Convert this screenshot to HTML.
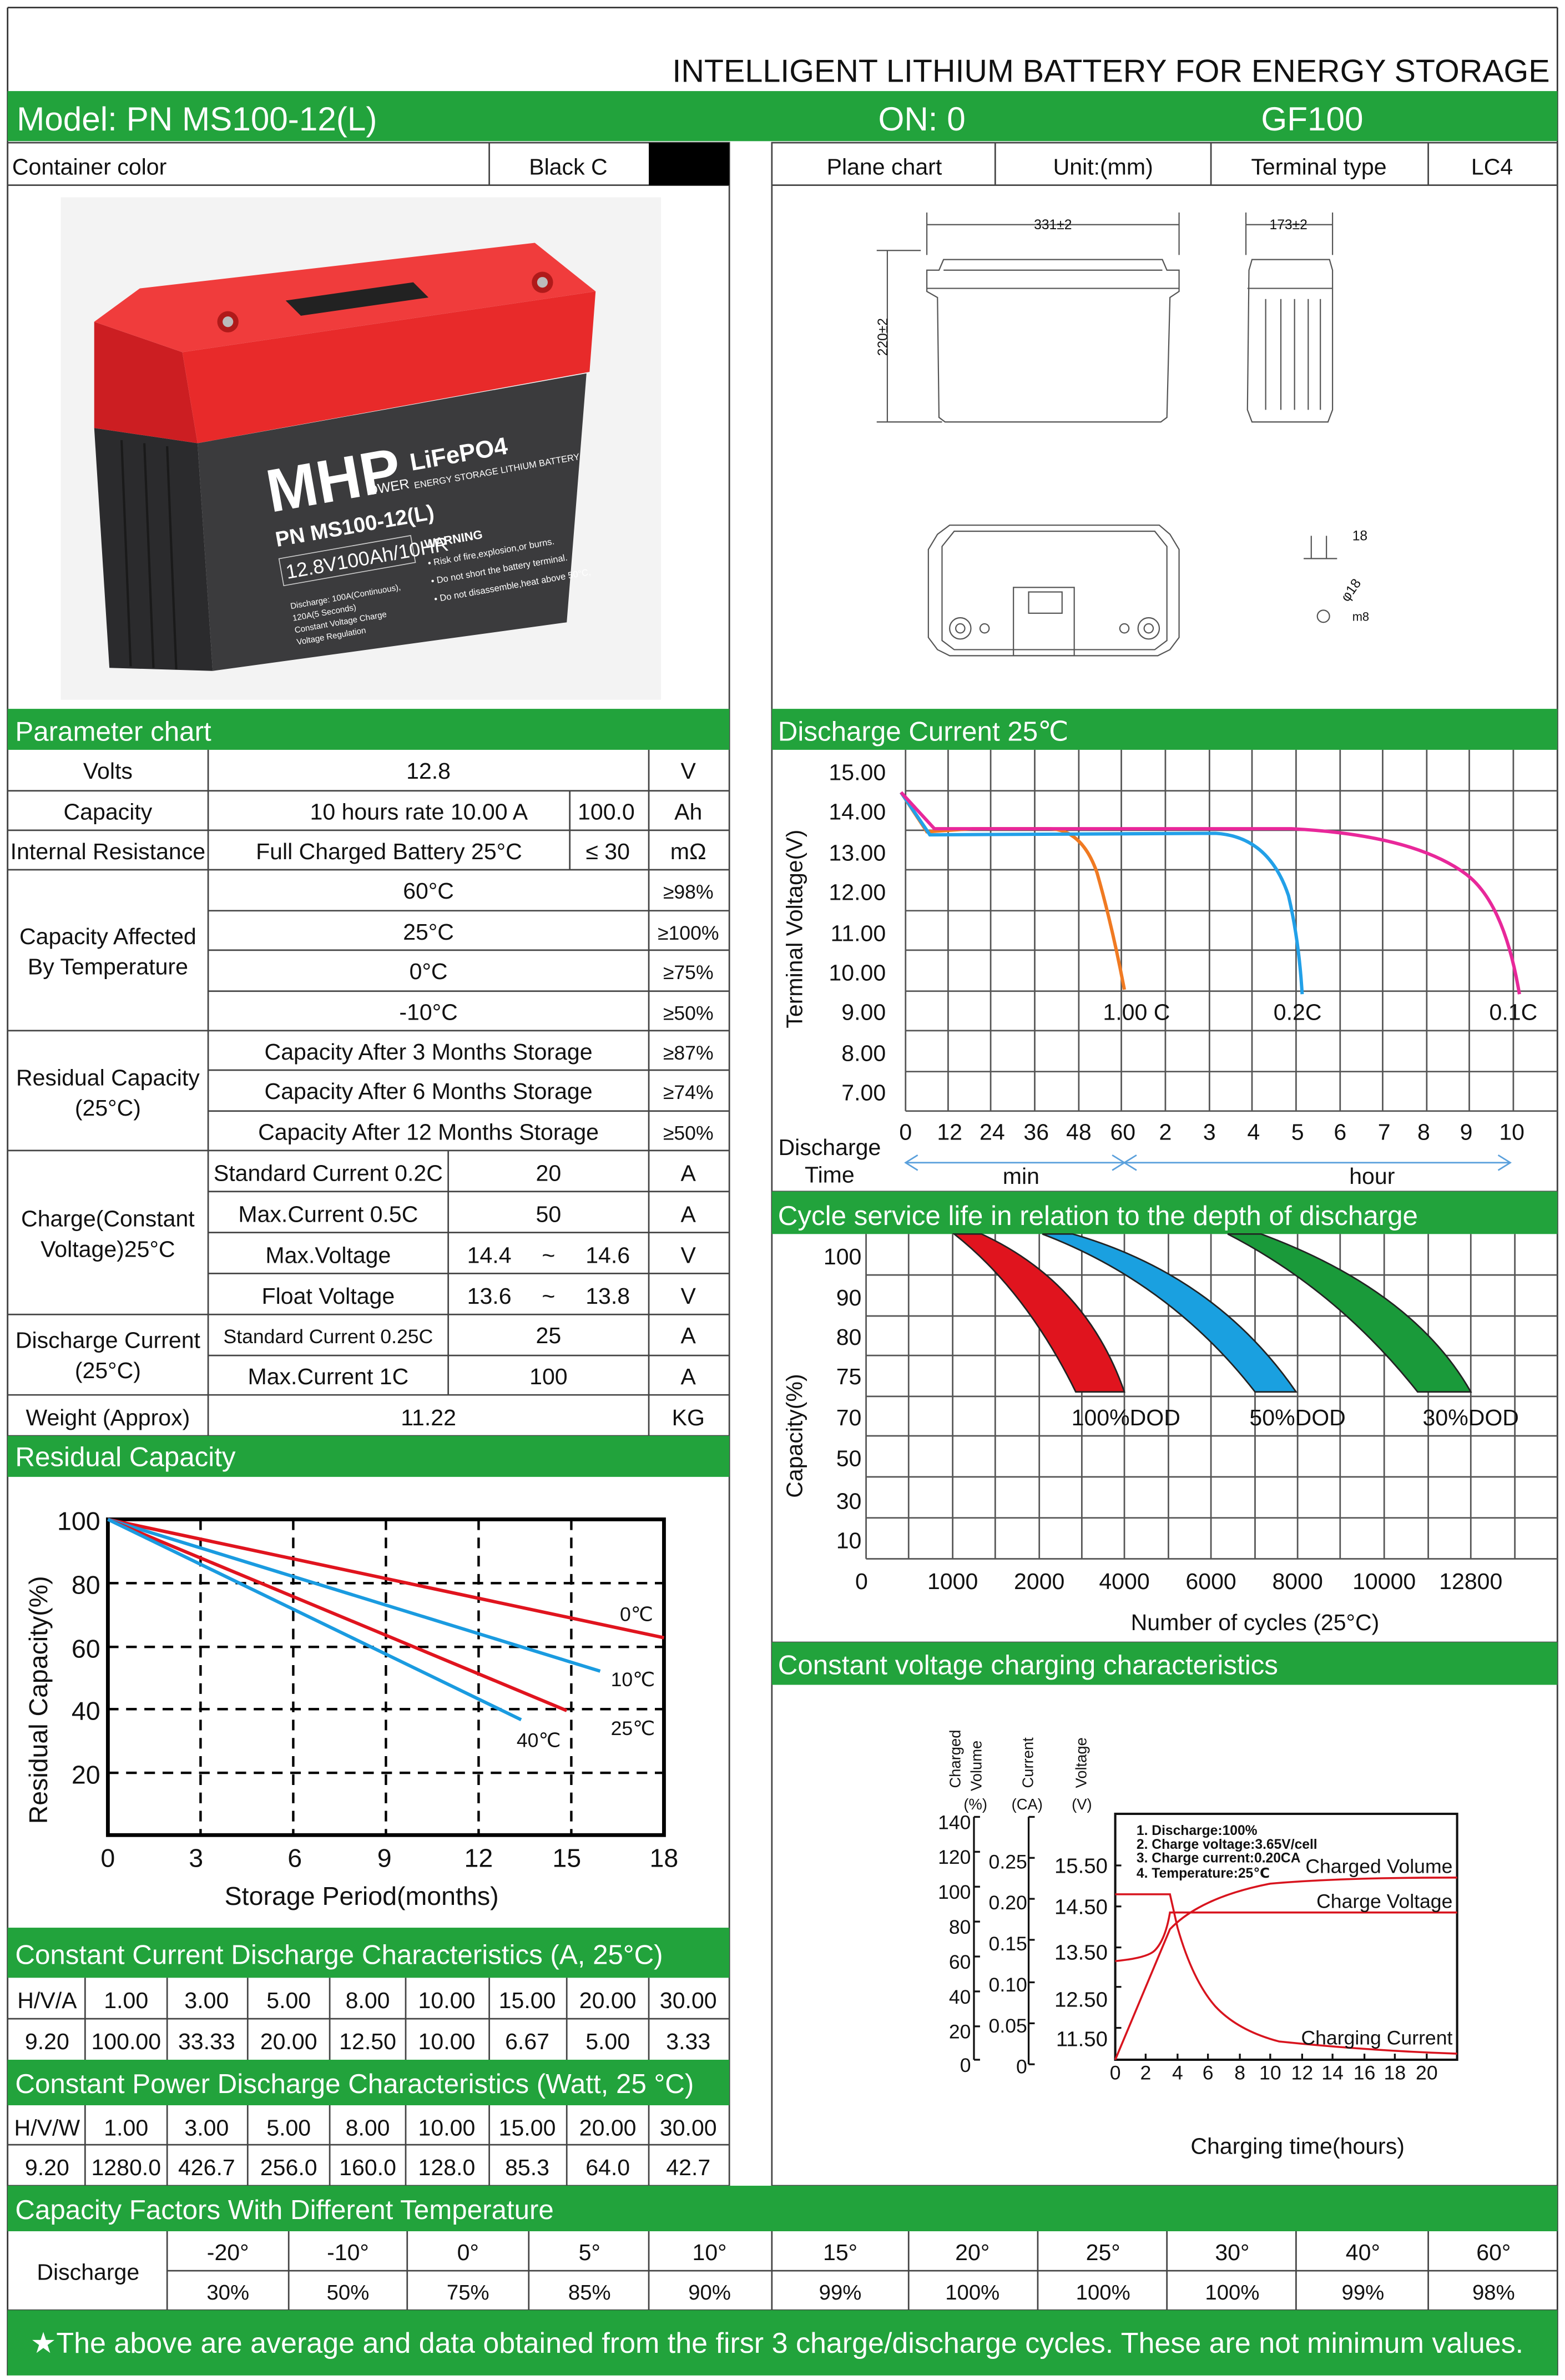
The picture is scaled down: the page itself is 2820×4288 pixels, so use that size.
<!DOCTYPE html>
<html><head><meta charset="utf-8"><style>
html,body{margin:0;padding:0;background:#fff;}
svg{display:block;}
text{font-family:"Liberation Sans","DejaVu Sans",sans-serif;fill:#111;}
.g{fill:#22a33c;}
.c{text-anchor:middle;}
.r{text-anchor:end;}
</style></head><body>
<svg width="2820" height="4288" viewBox="0 0 1030 1568" preserveAspectRatio="none" xmlns="http://www.w3.org/2000/svg">
<rect width="1030" height="1568" fill="#fff"/>
<line x1="5" y1="5" x2="1025" y2="5" stroke="#333" stroke-width="1"/>
<line x1="5" y1="5" x2="5" y2="1565" stroke="#333" stroke-width="1"/>
<line x1="1025" y1="5" x2="1025" y2="1565" stroke="#333" stroke-width="1"/>
<text x="1020" y="54" class="r" font-size="21">INTELLIGENT LITHIUM BATTERY FOR ENERGY STORAGE</text>
<rect x="5" y="60" width="1020" height="33" class="g"/>
<text x="11" y="86" font-size="22" style="fill:#fff">Model: PN MS100-12(L)</text>
<text x="578" y="86" font-size="22" style="fill:#fff">ON:  0</text>
<text x="830" y="86" font-size="22" style="fill:#fff">GF100</text>

<g stroke="#444" stroke-width="1" fill="none">
<rect x="5" y="94" width="475" height="1346"/>
<rect x="508" y="94" width="517" height="1346"/>
<line x1="5" y1="122" x2="480" y2="122"/><line x1="322" y1="94" x2="322" y2="122"/>
<line x1="508" y1="122" x2="1025" y2="122"/>
<line x1="655" y1="94" x2="655" y2="122"/><line x1="797" y1="94" x2="797" y2="122"/><line x1="940" y1="94" x2="940" y2="122"/>
</g>
<rect x="427" y="94" width="53" height="28" fill="#000"/>
<text x="8" y="115" font-size="15">Container color</text>
<text x="374" y="115" font-size="15" class="c">Black C</text>
<text x="582" y="115" font-size="15" class="c">Plane chart</text>
<text x="726" y="115" font-size="15" class="c">Unit:(mm)</text>
<text x="868" y="115" font-size="15" class="c">Terminal type</text>
<text x="982" y="115" font-size="15" class="c">LC4</text>

<!-- battery image -->
<rect x="40" y="130" width="395" height="331" fill="#f3f3f3"/>
<polygon points="62,282 130,292 140,442 72,440" fill="#2b2b2d"/>
<polygon points="130,292 386,246 373,410 140,442" fill="#3b3b3d"/>
<g stroke="#1a1a1a" stroke-width="1.5"><line x1="80" y1="290" x2="86" y2="439"/><line x1="95" y1="292" x2="101" y2="440"/><line x1="110" y1="294" x2="116" y2="441"/></g>
<polygon points="62,212 120,232 130,292 62,282" fill="#cc1e22"/>
<polygon points="120,232 392,192 388,245 130,292" fill="#e82a2a"/>
<polygon points="62,212 92,190 352,160 392,192 120,232" fill="#f03c3c"/>
<polygon points="188,198 272,186 282,196 198,208" fill="#222"/>
<circle cx="150" cy="212" r="7" fill="#b01a1a"/><circle cx="150" cy="212" r="3.5" fill="#bbb"/>
<circle cx="357" cy="186" r="7" fill="#b01a1a"/><circle cx="357" cy="186" r="3.5" fill="#bbb"/>
<g transform="rotate(-10 250 330)">
<text x="178" y="325" font-size="40" font-weight="bold" style="fill:#fff">MHP</text>
<text x="243" y="325" font-size="9" style="fill:#fff">OWER</text>
<text x="274" y="314" font-size="16" font-weight="bold" style="fill:#fff">LiFePO4</text>
<text x="274" y="326" font-size="6" style="fill:#fff">ENERGY STORAGE LITHIUM BATTERY</text>
<text x="178" y="348" font-size="14" font-weight="bold" style="fill:#fff">PN MS100-12(L)</text>
<rect x="178" y="356" width="88" height="18" fill="none" stroke="#ccc" stroke-width="0.6"/>
<text x="181" y="370" font-size="13" style="fill:#fff">12.8V100Ah/10HR</text>
<text x="274" y="366" font-size="8" font-weight="bold" style="fill:#fff">WARNING</text>
<text x="274" y="378" font-size="6" style="fill:#fff">• Risk of fire,explosion,or burns.</text>
<text x="274" y="390" font-size="6" style="fill:#fff">• Do not short the battery terminal.</text>
<text x="274" y="402" font-size="6" style="fill:#fff">• Do not disassemble,heat above 50°C,</text>
<text x="180" y="390" font-size="5.5" style="fill:#fff">Discharge: 100A(Continuous),</text>
<text x="180" y="398" font-size="5.5" style="fill:#fff">120A(5 Seconds)</text>
<text x="180" y="406" font-size="5.5" style="fill:#fff">Constant Voltage Charge</text>
<text x="180" y="414" font-size="5.5" style="fill:#fff">Voltage Regulation</text>
</g>

<!-- plane drawings -->
<g stroke="#555" stroke-width="0.8" fill="none">
<line x1="610" y1="148" x2="776" y2="148"/><line x1="610" y1="140" x2="610" y2="168"/><line x1="776" y1="140" x2="776" y2="168"/>
<line x1="820" y1="148" x2="877" y2="148"/><line x1="820" y1="140" x2="820" y2="168"/><line x1="877" y1="140" x2="877" y2="168"/>
<line x1="584" y1="165" x2="584" y2="278"/><line x1="577" y1="165" x2="606" y2="165"/><line x1="577" y1="278" x2="620" y2="278"/>
<path d="M618,178 L621,171 L765,171 L768,178 L776,178 L776,192 L770,196 L768,275 L764,278 L622,278 L618,275 L617,196 L610,192 L610,178 Z"/>
<line x1="610" y1="190" x2="776" y2="190"/><line x1="621" y1="178" x2="765" y2="178"/>
<path d="M822,178 L824,171 L875,171 L877,178 L877,270 L874,278 L824,278 L821,270 Z"/>
<line x1="821" y1="190" x2="877" y2="190"/>
<line x1="833" y1="197" x2="833" y2="270"/><line x1="843" y1="197" x2="843" y2="270"/><line x1="852" y1="197" x2="852" y2="270"/><line x1="861" y1="197" x2="861" y2="270"/><line x1="869" y1="197" x2="869" y2="270"/>
<path d="M625,346 L763,346 L770,352 L776,362 L776,420 L770,428 L762,432 L625,432 L617,428 L611,420 L611,362 L617,352 Z"/>
<path d="M628,350 L760,350 L768,360 L768,422 L760,428 L628,428 L620,422 L620,360 Z"/>
<rect x="667" y="387" width="40" height="45"/><rect x="677" y="390" width="22" height="14"/>
<circle cx="632" cy="414" r="7"/><circle cx="632" cy="414" r="3"/>
<circle cx="756" cy="414" r="7"/><circle cx="756" cy="414" r="3"/>
<circle cx="648" cy="414" r="3"/><circle cx="740" cy="414" r="3"/>
<line x1="863" y1="353" x2="863" y2="368"/><line x1="873" y1="353" x2="873" y2="368"/><line x1="858" y1="368" x2="880" y2="368"/>
<circle cx="871" cy="406" r="4"/>
</g>
<text x="693" y="151" font-size="9" class="c">331±2</text>
<text x="848" y="151" font-size="9" class="c">173±2</text>
<text x="584" y="222" font-size="9" class="c" transform="rotate(-90 584 222)">220±2</text>
<text x="890" y="356" font-size="9">18</text>
<text x="887" y="397" font-size="9" transform="rotate(-55 887 397)">φ18</text>
<text x="890" y="409" font-size="8">m8</text>

<!-- green section bars -->
<rect x="5" y="467" width="475" height="27" class="g"/>
<text x="10" y="488" font-size="18" style="fill:#fff">Parameter chart</text>
<rect x="508" y="467" width="517" height="27" class="g"/>
<text x="512" y="488" font-size="18" style="fill:#fff">Discharge Current 25℃</text>

<!-- parameter table -->
<g stroke="#444" stroke-width="1">
<line x1="5" y1="521" x2="480" y2="521"/><line x1="5" y1="547" x2="480" y2="547"/><line x1="5" y1="573" x2="480" y2="573"/>
<line x1="137" y1="600" x2="480" y2="600"/><line x1="137" y1="626" x2="480" y2="626"/><line x1="137" y1="653" x2="480" y2="653"/>
<line x1="5" y1="679" x2="480" y2="679"/><line x1="137" y1="705" x2="480" y2="705"/><line x1="137" y1="732" x2="480" y2="732"/>
<line x1="5" y1="758" x2="480" y2="758"/><line x1="137" y1="785" x2="480" y2="785"/><line x1="137" y1="812" x2="480" y2="812"/><line x1="137" y1="839" x2="480" y2="839"/>
<line x1="5" y1="866" x2="480" y2="866"/><line x1="137" y1="893" x2="480" y2="893"/><line x1="5" y1="919" x2="480" y2="919"/><line x1="5" y1="946" x2="480" y2="946"/>
<line x1="137" y1="494" x2="137" y2="946"/><line x1="427" y1="494" x2="427" y2="946"/>
<line x1="375" y1="521" x2="375" y2="573"/><line x1="295" y1="758" x2="295" y2="919"/>
</g>
<g font-size="15">
<text x="71" y="513" class="c">Volts</text><text x="282" y="513" class="c">12.8</text><text x="453" y="513" class="c">V</text>
<text x="71" y="540" class="c">Capacity</text><text x="204" y="540">10 hours rate  10.00   A</text><text x="399" y="540" class="c">100.0</text><text x="453" y="540" class="c">Ah</text>
<text x="71" y="566" class="c">Internal Resistance</text><text x="256" y="566" class="c">Full Charged Battery 25°C</text><text x="400" y="566" class="c">≤  30</text><text x="453" y="566" class="c">mΩ</text>
<text x="71" y="622" class="c">Capacity Affected</text><text x="71" y="642" class="c">By Temperature</text>
<text x="282" y="592" class="c">60°C</text><text x="282" y="619" class="c">25°C</text><text x="282" y="645" class="c">0°C</text><text x="282" y="672" class="c">-10°C</text>
<text x="453" y="592" class="c" font-size="13">≥98%</text><text x="453" y="619" class="c" font-size="13">≥100%</text><text x="453" y="645" class="c" font-size="13">≥75%</text><text x="453" y="672" class="c" font-size="13">≥50%</text>
<text x="71" y="715" class="c">Residual Capacity</text><text x="71" y="735" class="c">(25°C)</text>
<text x="282" y="698" class="c">Capacity After 3 Months Storage</text><text x="282" y="724" class="c">Capacity After 6 Months Storage</text><text x="282" y="751" class="c">Capacity After 12 Months Storage</text>
<text x="453" y="698" class="c" font-size="13">≥87%</text><text x="453" y="724" class="c" font-size="13">≥74%</text><text x="453" y="751" class="c" font-size="13">≥50%</text>
<text x="71" y="808" class="c">Charge(Constant</text><text x="71" y="828" class="c">Voltage)25°C</text>
<text x="216" y="778" class="c">Standard Current 0.2C</text><text x="361" y="778" class="c">20</text><text x="453" y="778" class="c">A</text>
<text x="216" y="805" class="c">Max.Current 0.5C</text><text x="361" y="805" class="c">50</text><text x="453" y="805" class="c">A</text>
<text x="216" y="832" class="c">Max.Voltage</text><text x="322" y="832" class="c">14.4</text><text x="361" y="832" class="c">~</text><text x="400" y="832" class="c">14.6</text><text x="453" y="832" class="c">V</text>
<text x="216" y="859" class="c">Float Voltage</text><text x="322" y="859" class="c">13.6</text><text x="361" y="859" class="c">~</text><text x="400" y="859" class="c">13.8</text><text x="453" y="859" class="c">V</text>
<text x="71" y="888" class="c">Discharge Current</text><text x="71" y="908" class="c">(25°C)</text>
<text x="216" y="885" class="c" font-size="13">Standard Current 0.25C</text><text x="361" y="885" class="c">25</text><text x="453" y="885" class="c">A</text>
<text x="216" y="912" class="c">Max.Current 1C</text><text x="361" y="912" class="c">100</text><text x="453" y="912" class="c">A</text>
<text x="71" y="939" class="c">Weight (Approx)</text><text x="282" y="939" class="c">11.22</text><text x="453" y="939" class="c">KG</text>
</g>
<rect x="5" y="946" width="475" height="27" class="g"/>
<text x="10" y="966" font-size="18" style="fill:#fff">Residual Capacity</text>

<!-- residual chart -->
<g stroke="#000" stroke-width="1.6" stroke-dasharray="7,5" fill="none">
<line x1="71" y1="1043" x2="437" y2="1043"/><line x1="71" y1="1085" x2="437" y2="1085"/><line x1="71" y1="1126" x2="437" y2="1126"/><line x1="71" y1="1168" x2="437" y2="1168"/>
<line x1="132" y1="1001" x2="132" y2="1209"/><line x1="193" y1="1001" x2="193" y2="1209"/><line x1="254" y1="1001" x2="254" y2="1209"/><line x1="315" y1="1001" x2="315" y2="1209"/><line x1="376" y1="1001" x2="376" y2="1209"/>
</g>
<rect x="71" y="1001" width="366" height="208" fill="none" stroke="#000" stroke-width="2.5"/>
<g stroke-width="2.2" fill="none">
<line x1="71" y1="1001" x2="437" y2="1079" stroke="#e0141e"/>
<line x1="71" y1="1001" x2="395" y2="1101" stroke="#1a9be0"/>
<line x1="71" y1="1001" x2="373" y2="1127" stroke="#e0141e"/>
<line x1="71" y1="1001" x2="343" y2="1133" stroke="#1a9be0"/>
</g>
<g font-size="17">
<text x="66" y="1008" class="r">100</text><text x="66" y="1050" class="r">80</text><text x="66" y="1092" class="r">60</text><text x="66" y="1133" class="r">40</text><text x="66" y="1175" class="r">20</text>
<text x="71" y="1230" class="c">0</text><text x="129" y="1230" class="c">3</text><text x="194" y="1230" class="c">6</text><text x="253" y="1230" class="c">9</text><text x="315" y="1230" class="c">12</text><text x="373" y="1230" class="c">15</text><text x="437" y="1230" class="c">18</text>
<text x="238" y="1255" class="c">Storage Period(months)</text>
<text x="31" y="1120" class="c" transform="rotate(-90 31 1120)">Residual Capacity(%)</text>
</g>
<g font-size="13"><text x="408" y="1068">0℃</text><text x="402" y="1111">10℃</text><text x="402" y="1143">25℃</text><text x="340" y="1151">40℃</text></g>

<!-- constant current/power tables -->
<rect x="5" y="1270" width="475" height="33" class="g"/>
<text x="10" y="1294" font-size="18" style="fill:#fff">Constant Current Discharge Characteristics (A, 25°C)</text>
<rect x="5" y="1357" width="475" height="30" class="g"/>
<text x="10" y="1379" font-size="18" style="fill:#fff">Constant Power Discharge Characteristics (Watt, 25 °C)</text>
<g stroke="#444" stroke-width="1">
<line x1="5" y1="1330" x2="480" y2="1330"/><line x1="5" y1="1413" x2="480" y2="1413"/>
<g id="cols"><line x1="56" y1="1303" x2="56" y2="1357"/><line x1="110" y1="1303" x2="110" y2="1357"/><line x1="163" y1="1303" x2="163" y2="1357"/><line x1="217" y1="1303" x2="217" y2="1357"/><line x1="267" y1="1303" x2="267" y2="1357"/><line x1="322" y1="1303" x2="322" y2="1357"/><line x1="373" y1="1303" x2="373" y2="1357"/><line x1="427" y1="1303" x2="427" y2="1357"/></g>
<use href="#cols" transform="translate(0,84)"/>
</g>
<g font-size="15">
<text x="31" y="1323" class="c">H/V/A</text><text x="83" y="1323" class="c">1.00</text><text x="136" y="1323" class="c">3.00</text><text x="190" y="1323" class="c">5.00</text><text x="242" y="1323" class="c">8.00</text><text x="294" y="1323" class="c">10.00</text><text x="347" y="1323" class="c">15.00</text><text x="400" y="1323" class="c">20.00</text><text x="453" y="1323" class="c">30.00</text>
<text x="31" y="1350" class="c">9.20</text><text x="83" y="1350" class="c">100.00</text><text x="136" y="1350" class="c">33.33</text><text x="190" y="1350" class="c">20.00</text><text x="242" y="1350" class="c">12.50</text><text x="294" y="1350" class="c">10.00</text><text x="347" y="1350" class="c">6.67</text><text x="400" y="1350" class="c">5.00</text><text x="453" y="1350" class="c">3.33</text>
<text x="31" y="1407" class="c">H/V/W</text><text x="83" y="1407" class="c">1.00</text><text x="136" y="1407" class="c">3.00</text><text x="190" y="1407" class="c">5.00</text><text x="242" y="1407" class="c">8.00</text><text x="294" y="1407" class="c">10.00</text><text x="347" y="1407" class="c">15.00</text><text x="400" y="1407" class="c">20.00</text><text x="453" y="1407" class="c">30.00</text>
<text x="31" y="1433" class="c">9.20</text><text x="83" y="1433" class="c">1280.0</text><text x="136" y="1433" class="c">426.7</text><text x="190" y="1433" class="c">256.0</text><text x="242" y="1433" class="c">160.0</text><text x="294" y="1433" class="c">128.0</text><text x="347" y="1433" class="c">85.3</text><text x="400" y="1433" class="c">64.0</text><text x="453" y="1433" class="c">42.7</text>
</g>

<!-- discharge current chart -->
<g stroke="#555" stroke-width="1">
<line x1="596" y1="521" x2="1025" y2="521"/><line x1="596" y1="547" x2="1025" y2="547"/><line x1="596" y1="573" x2="1025" y2="573"/><line x1="596" y1="600" x2="1025" y2="600"/><line x1="596" y1="626" x2="1025" y2="626"/><line x1="596" y1="653" x2="1025" y2="653"/><line x1="596" y1="679" x2="1025" y2="679"/><line x1="596" y1="706" x2="1025" y2="706"/><line x1="596" y1="732" x2="1025" y2="732"/>
<line x1="596" y1="494" x2="596" y2="732"/><line x1="624" y1="494" x2="624" y2="732"/><line x1="652" y1="494" x2="652" y2="732"/><line x1="681" y1="494" x2="681" y2="732"/><line x1="710" y1="494" x2="710" y2="732"/><line x1="738" y1="494" x2="738" y2="732"/><line x1="767" y1="494" x2="767" y2="732"/><line x1="796" y1="494" x2="796" y2="732"/><line x1="824" y1="494" x2="824" y2="732"/><line x1="853" y1="494" x2="853" y2="732"/><line x1="882" y1="494" x2="882" y2="732"/><line x1="910" y1="494" x2="910" y2="732"/><line x1="939" y1="494" x2="939" y2="732"/><line x1="967" y1="494" x2="967" y2="732"/><line x1="996" y1="494" x2="996" y2="732"/>
<line x1="508" y1="785" x2="1025" y2="785"/>
</g>
<g font-size="15">
<text x="583" y="514" class="r">15.00</text><text x="583" y="540" class="r">14.00</text><text x="583" y="567" class="r">13.00</text><text x="583" y="593" class="r">12.00</text><text x="583" y="620" class="r">11.00</text><text x="583" y="646" class="r">10.00</text><text x="583" y="672" class="r">9.00</text><text x="583" y="699" class="r">8.00</text><text x="583" y="725" class="r">7.00</text>
<text x="596" y="751" class="c">0</text><text x="625" y="751" class="c">12</text><text x="653" y="751" class="c">24</text><text x="682" y="751" class="c">36</text><text x="710" y="751" class="c">48</text><text x="739" y="751" class="c">60</text><text x="767" y="751" class="c">2</text><text x="796" y="751" class="c">3</text><text x="825" y="751" class="c">4</text><text x="854" y="751" class="c">5</text><text x="882" y="751" class="c">6</text><text x="911" y="751" class="c">7</text><text x="937" y="751" class="c">8</text><text x="965" y="751" class="c">9</text><text x="995" y="751" class="c">10</text>
<text x="546" y="761" class="c">Discharge</text><text x="546" y="779" class="c">Time</text>
<text x="672" y="780" class="c">min</text><text x="903" y="780" class="c">hour</text>
<text x="528" y="612" class="c" transform="rotate(-90 528 612)">Terminal Voltage(V)</text>
<text x="748" y="672" class="c">1.00  C</text><text x="854" y="672" class="c">0.2C</text><text x="996" y="672" class="c">0.1C</text>
</g>
<g stroke="#5aa0dc" stroke-width="1" fill="none">
<line x1="596" y1="766" x2="994" y2="766"/>
<polyline points="604,761 596,766 604,771"/><polyline points="732,761 740,766 732,771"/><polyline points="748,761 740,766 748,771"/><polyline points="986,761 994,766 986,771"/>
</g>
<g fill="none" stroke-width="2.2">
<path d="M593,522 L610,548 L640,546 L690,546 Q712,546 722,575 Q732,610 740,652" stroke="#f07a22"/>
<path d="M593,522 L612,550 L800,549 Q835,551 848,590 Q855,620 857,655" stroke="#22a0e8"/>
<path d="M593,522 L615,546 L850,546 Q930,550 965,576 Q990,595 1000,655" stroke="#e8289a"/>
</g>

<!-- cycle life -->
<rect x="508" y="785" width="517" height="28" class="g"/>
<text x="512" y="807" font-size="18" style="fill:#fff">Cycle service life in relation to the depth of discharge</text>
<g stroke="#555" stroke-width="1">
<line x1="570" y1="840" x2="1025" y2="840"/><line x1="570" y1="867" x2="1025" y2="867"/><line x1="570" y1="893" x2="1025" y2="893"/><line x1="570" y1="920" x2="1025" y2="920"/><line x1="570" y1="946" x2="1025" y2="946"/><line x1="570" y1="973" x2="1025" y2="973"/><line x1="570" y1="1000" x2="1025" y2="1000"/><line x1="570" y1="1027" x2="1025" y2="1027"/>
<line x1="570" y1="813" x2="570" y2="1027"/><line x1="598" y1="813" x2="598" y2="1027"/><line x1="627" y1="813" x2="627" y2="1027"/><line x1="655" y1="813" x2="655" y2="1027"/><line x1="684" y1="813" x2="684" y2="1027"/><line x1="712" y1="813" x2="712" y2="1027"/><line x1="740" y1="813" x2="740" y2="1027"/><line x1="769" y1="813" x2="769" y2="1027"/><line x1="797" y1="813" x2="797" y2="1027"/><line x1="826" y1="813" x2="826" y2="1027"/><line x1="854" y1="813" x2="854" y2="1027"/><line x1="882" y1="813" x2="882" y2="1027"/><line x1="911" y1="813" x2="911" y2="1027"/><line x1="940" y1="813" x2="940" y2="1027"/><line x1="968" y1="813" x2="968" y2="1027"/><line x1="997" y1="813" x2="997" y2="1027"/>
<line x1="508" y1="1082" x2="1025" y2="1082"/>
</g>
<g stroke="#222" stroke-width="1">
<path d="M628,813 L646,813 Q715,845 740,917 L708,917 Q675,850 628,813 Z" fill="#e0141e"/>
<path d="M686,813 L706,813 Q800,840 853,917 L826,917 Q770,845 686,813 Z" fill="#1aa0e0"/>
<path d="M808,813 L830,813 Q930,850 968,917 L933,917 Q880,850 808,813 Z" fill="#1a9a3a"/>
</g>
<g font-size="15">
<text x="567" y="833" class="r">100</text><text x="567" y="860" class="r">90</text><text x="567" y="886" class="r">80</text><text x="567" y="912" class="r">75</text><text x="567" y="939" class="r">70</text><text x="567" y="966" class="r">50</text><text x="567" y="994" class="r">30</text><text x="567" y="1020" class="r">10</text>
<text x="567" y="1047" class="c">0</text><text x="627" y="1047" class="c">1000</text><text x="684" y="1047" class="c">2000</text><text x="740" y="1047" class="c">4000</text><text x="797" y="1047" class="c">6000</text><text x="854" y="1047" class="c">8000</text><text x="911" y="1047" class="c">10000</text><text x="968" y="1047" class="c">12800</text>
<text x="741" y="939" class="c">100%DOD</text><text x="854" y="939" class="c">50%DOD</text><text x="968" y="939" class="c">30%DOD</text>
<text x="826" y="1074" class="c">Number of cycles (25°C)</text>
<text x="528" y="946" class="c" transform="rotate(-90 528 946)">Capacity(%)</text>
</g>

<!-- charging chart -->
<rect x="508" y="1082" width="517" height="28" class="g"/>
<text x="512" y="1103" font-size="18" style="fill:#fff">Constant voltage charging characteristics</text>
<g stroke="#111" stroke-width="1.2" fill="none">
<line x1="641" y1="1197" x2="641" y2="1357"/>
<line x1="641" y1="1197" x2="645" y2="1197"/><line x1="641" y1="1220" x2="645" y2="1220"/><line x1="641" y1="1243" x2="645" y2="1243"/><line x1="641" y1="1266" x2="645" y2="1266"/><line x1="641" y1="1289" x2="645" y2="1289"/><line x1="641" y1="1312" x2="645" y2="1312"/><line x1="641" y1="1335" x2="645" y2="1335"/><line x1="641" y1="1357" x2="645" y2="1357"/>
<line x1="677" y1="1197" x2="677" y2="1360"/>
<line x1="677" y1="1197" x2="681" y2="1197"/><line x1="677" y1="1224" x2="681" y2="1224"/><line x1="677" y1="1251" x2="681" y2="1251"/><line x1="677" y1="1278" x2="681" y2="1278"/><line x1="677" y1="1306" x2="681" y2="1306"/><line x1="677" y1="1333" x2="681" y2="1333"/><line x1="677" y1="1360" x2="681" y2="1360"/>
<rect x="734" y="1195" width="225" height="162" stroke-width="1.5"/>
<line x1="734" y1="1229" x2="738" y2="1229"/><line x1="734" y1="1256" x2="738" y2="1256"/><line x1="734" y1="1283" x2="738" y2="1283"/><line x1="734" y1="1309" x2="738" y2="1309"/><line x1="734" y1="1336" x2="738" y2="1336"/>
<line x1="754" y1="1357" x2="754" y2="1353"/><line x1="775" y1="1357" x2="775" y2="1353"/><line x1="795" y1="1357" x2="795" y2="1353"/><line x1="816" y1="1357" x2="816" y2="1353"/><line x1="836" y1="1357" x2="836" y2="1353"/><line x1="857" y1="1357" x2="857" y2="1353"/><line x1="877" y1="1357" x2="877" y2="1353"/><line x1="898" y1="1357" x2="898" y2="1353"/><line x1="918" y1="1357" x2="918" y2="1353"/><line x1="939" y1="1357" x2="939" y2="1353"/>
</g>
<g fill="none" stroke="#d8141e" stroke-width="1.3">
<path d="M734,1357 L770,1271 Q790,1250 836,1241 Q880,1237 959,1237"/>
<path d="M734,1292 Q755,1290 760,1285 Q767,1278 770,1260 L959,1260"/>
<path d="M734,1248 L770,1248 L775,1270 Q785,1305 800,1322 Q815,1338 842,1345 Q900,1351 959,1353"/>
</g>
<g font-size="13">
<text x="639" y="1205" class="r">140</text><text x="639" y="1228" class="r">120</text><text x="639" y="1251" class="r">100</text><text x="639" y="1274" class="r">80</text><text x="639" y="1297" class="r">60</text><text x="639" y="1320" class="r">40</text><text x="639" y="1343" class="r">20</text><text x="639" y="1365" class="r">0</text>
<text x="676" y="1231" class="r">0.25</text><text x="676" y="1258" class="r">0.20</text><text x="676" y="1285" class="r">0.15</text><text x="676" y="1312" class="r">0.10</text><text x="676" y="1339" class="r">0.05</text><text x="676" y="1366" class="r">0</text>
<text x="729" y="1234" class="r" font-size="14">15.50</text><text x="729" y="1261" class="r" font-size="14">14.50</text><text x="729" y="1291" class="r" font-size="14">13.50</text><text x="729" y="1322" class="r" font-size="14">12.50</text><text x="729" y="1348" class="r" font-size="14">11.50</text>
<text x="734" y="1370" class="c">0</text><text x="754" y="1370" class="c">2</text><text x="775" y="1370" class="c">4</text><text x="795" y="1370" class="c">6</text><text x="816" y="1370" class="c">8</text><text x="836" y="1370" class="c">10</text><text x="857" y="1370" class="c">12</text><text x="877" y="1370" class="c">14</text><text x="898" y="1370" class="c">16</text><text x="918" y="1370" class="c">18</text><text x="939" y="1370" class="c">20</text>
<text x="956" y="1234" class="r">Charged Volume</text><text x="956" y="1257" class="r">Charge Voltage</text><text x="956" y="1347" class="r">Charging Current</text>
<text x="854" y="1419" class="c" font-size="15">Charging time(hours)</text>
</g>
<g font-size="9" font-weight="bold">
<text x="748" y="1209">1. Discharge:100%</text><text x="748" y="1218">2. Charge voltage:3.65V/cell</text><text x="748" y="1227">3. Charge current:0.20CA</text><text x="748" y="1237">4. Temperature:25℃</text>
</g>
<g font-size="10">
<text x="632" y="1178" transform="rotate(-90 632 1178)">Charged</text><text x="646" y="1180" transform="rotate(-90 646 1180)">Volume</text><text x="642" y="1192" class="c">(%)</text>
<text x="680" y="1178" transform="rotate(-90 680 1178)">Current</text><text x="676" y="1192" class="c">(CA)</text>
<text x="715" y="1178" transform="rotate(-90 715 1178)">Voltage</text><text x="712" y="1192" class="c">(V)</text>
</g>

<!-- capacity factors -->
<rect x="5" y="1440" width="1020" height="30" class="g"/>
<text x="10" y="1462" font-size="18" style="fill:#fff">Capacity Factors With Different Temperature</text>
<g stroke="#444" stroke-width="1">
<line x1="110" y1="1496" x2="1025" y2="1496"/><line x1="5" y1="1522" x2="1025" y2="1522"/>
<line x1="110" y1="1470" x2="110" y2="1522"/><line x1="190" y1="1470" x2="190" y2="1522"/><line x1="268" y1="1470" x2="268" y2="1522"/><line x1="348" y1="1470" x2="348" y2="1522"/><line x1="427" y1="1470" x2="427" y2="1522"/><line x1="508" y1="1470" x2="508" y2="1522"/><line x1="598" y1="1470" x2="598" y2="1522"/><line x1="683" y1="1470" x2="683" y2="1522"/><line x1="768" y1="1470" x2="768" y2="1522"/><line x1="853" y1="1470" x2="853" y2="1522"/><line x1="940" y1="1470" x2="940" y2="1522"/>
</g>
<g font-size="15">
<text x="58" y="1502" class="c">Discharge</text>
<text x="150" y="1489" class="c">-20°</text><text x="229" y="1489" class="c">-10°</text><text x="308" y="1489" class="c">0°</text><text x="388" y="1489" class="c">5°</text><text x="467" y="1489" class="c">10°</text><text x="553" y="1489" class="c">15°</text><text x="640" y="1489" class="c">20°</text><text x="726" y="1489" class="c">25°</text><text x="811" y="1489" class="c">30°</text><text x="897" y="1489" class="c">40°</text><text x="983" y="1489" class="c">60°</text>
<g font-size="14"><text x="150" y="1515" class="c">30%</text><text x="229" y="1515" class="c">50%</text><text x="308" y="1515" class="c">75%</text><text x="388" y="1515" class="c">85%</text><text x="467" y="1515" class="c">90%</text><text x="553" y="1515" class="c">99%</text><text x="640" y="1515" class="c">100%</text><text x="726" y="1515" class="c">100%</text><text x="811" y="1515" class="c">100%</text><text x="897" y="1515" class="c">99%</text><text x="983" y="1515" class="c">98%</text></g>
</g>
<rect x="5" y="1522" width="1020" height="43" class="g"/>
<text x="20" y="1550" font-size="19" style="fill:#fff">★The above are average and data obtained from the firsr 3 charge/discharge cycles. These are not minimum values.</text>
</svg>
</body></html>
